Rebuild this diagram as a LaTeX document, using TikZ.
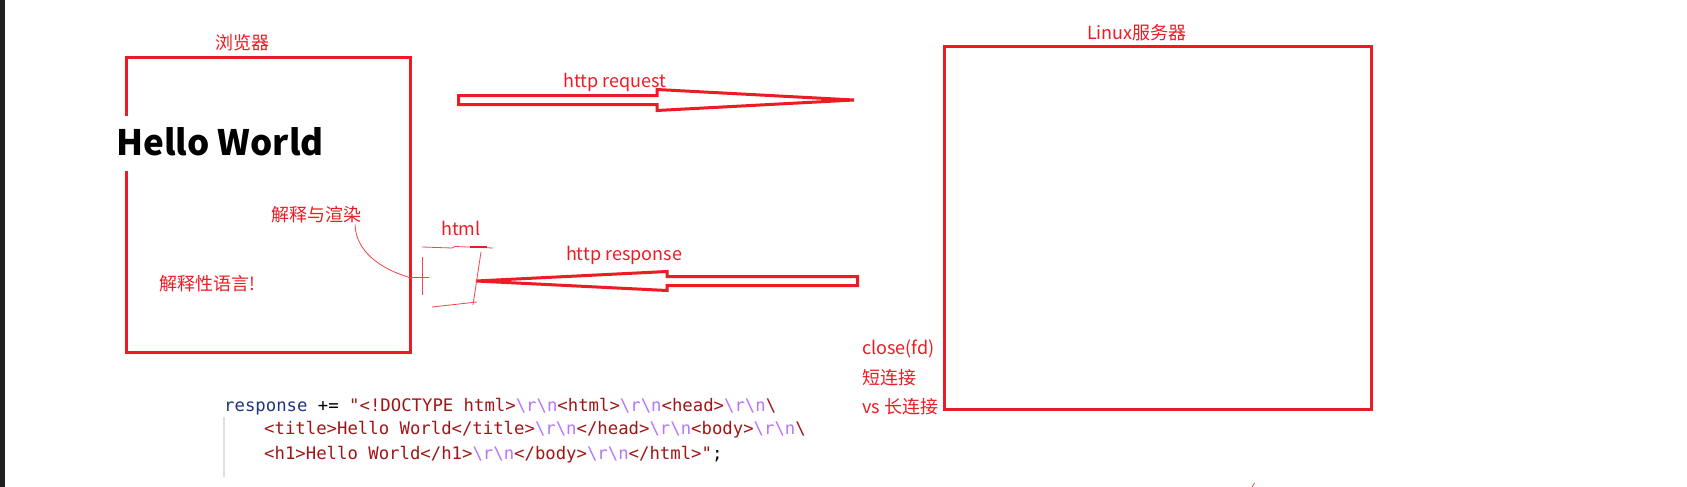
\documentclass[tikz,border=0pt]{standalone}
\usepackage{fontspec}
\setmainfont{Noto Sans CJK SC}
\setmonofont{DejaVu Sans Mono}
\usetikzlibrary{calc}

\definecolor{pred}{RGB}{237,28,36}
\definecolor{sketchred}{RGB}{240,70,75}
\definecolor{cblue}{RGB}{31,55,127}
\definecolor{cstr}{RGB}{163,21,21}
\definecolor{cesc}{RGB}{183,118,251}
\definecolor{strip}{RGB}{32,32,32}

\newcommand{\crlf}{\textcolor{cesc}{\textbackslash r\textbackslash n}}
\newcommand{\ws}{\hphantom{x}}

\begin{document}
\begin{tikzpicture}[x=1pt, y=-1pt,
    box/.style={draw=pred, line width=3pt, inner sep=0pt},
    fatarrow/.style={draw=pred, line width=3pt, line join=miter},
    sketch/.style={draw=sketchred, line width=0.8pt},
    lbl/.style={text=pred, font=\fontsize{18}{20}\selectfont, inner sep=1pt},
    code/.style={font=\ttfamily\fontsize{17.3}{20}\selectfont, anchor=west, inner sep=0pt}]
        \useasboundingbox (0,0) rectangle (1687,487);
        \fill[white] (0,0) rectangle (1687,487);
        \fill[strip] (0,0) rectangle (4.5,487);

        % Browser and server
        \node[box, minimum width=284, minimum height=294] (browser) at (268,205) {};
        \node[box, minimum width=427, minimum height=362] (server) at (1157.5,228) {};
        \node[lbl] (browserlbl) at (242,43) {浏览器};
        \node[lbl] (serverlbl) at (1137,33) {Linux服务器};

        % Hello World
        \node[fill=white, inner sep=0pt, text height=39pt, text depth=16pt, anchor=base,
            font=\bfseries\fontsize{35}{40}\selectfont] (hello) at (220,155) {Hello World};

        % Request arrow
        \coordinate (reqtail) at (458.5,100);
        \coordinate (reqtip) at (854,100);
        \draw[fatarrow] (reqtail) -- ++(0,-4.5) -- ++(198.5,0) -- ++(0,-6) -- (reqtip)
            -- ++(-197,10.5) -- ++(0,-6) -- ++(-198.5,0) -- cycle;
        \node[lbl] (req) at (615,82) {http request};

        % Response arrow
        \coordinate (resptail) at (857.5,281);
        \coordinate (resptip) at (476,281);
        \draw[fatarrow] (resptail) -- ++(0,-4.5) -- ++(-190.5,0) -- ++(0,-5) -- (resptip)
            -- ++(191,9.5) -- ++(0,-5) -- ++(190.5,0) -- cycle;
        \node[lbl] (resp) at (624,255) {http response};

        % Notes
        \node[lbl] (render) at (316,215) {解释与渲染};
        \node[lbl] (interp) at (207,284) {解释性语言!};
        \node[lbl] (html) at (461,228) {html};
        \node[lbl, anchor=west] (close) at (861,349) {close(fd)};
        \node[lbl, anchor=west] (short) at (861,378) {短连接};
        \node[lbl, anchor=west] (long) at (861,407) {vs 长连接};

        % Hand drawn html page
        \coordinate (htmltick) at (408,277);
        \draw[sketch] ([xshift=-7pt]render.south east) .. controls (355,245) and (372,266) .. (htmltick);
        \draw[sketch] (htmltick) -- (429,277);
        \draw[sketch] (422,257) -- (422,295);
        \draw[sketch] (422,247) -- (452,248) -- (455,246.5) -- (493,248);
        \draw[pred, line width=1.6pt] (470,247) -- (487,247);
        \draw[sketch] (481,252) -- (473,305);
        \draw[sketch] (432,307) -- (477,302);
        \draw[sketch] (1252,487) -- (1254.5,483);

        % Code
        \draw[gray!25, line width=1.2pt] (224,417) -- (224,477);
        \node[code] (line1) at (224,407) {\textcolor{cblue}{response}\ws+=\ws\textcolor{cstr}{"<!DOCTYPE\ws{}html>}\crlf\textcolor{cstr}{<html>}\crlf\textcolor{cstr}{<head>}\crlf\textcolor{cstr}{\textbackslash}};
        \node[code] (line2) at (264,430) {\textcolor{cstr}{<title>Hello\ws{}World</title>}\crlf\textcolor{cstr}{</head>}\crlf\textcolor{cstr}{<body>}\crlf\textcolor{cstr}{\textbackslash}};
        \node[code] (line3) at (264,455) {\textcolor{cstr}{<h1>Hello\ws{}World</h1>}\crlf\textcolor{cstr}{</body>}\crlf\textcolor{cstr}{</html>"};};
    \end{tikzpicture}
\end{document}
